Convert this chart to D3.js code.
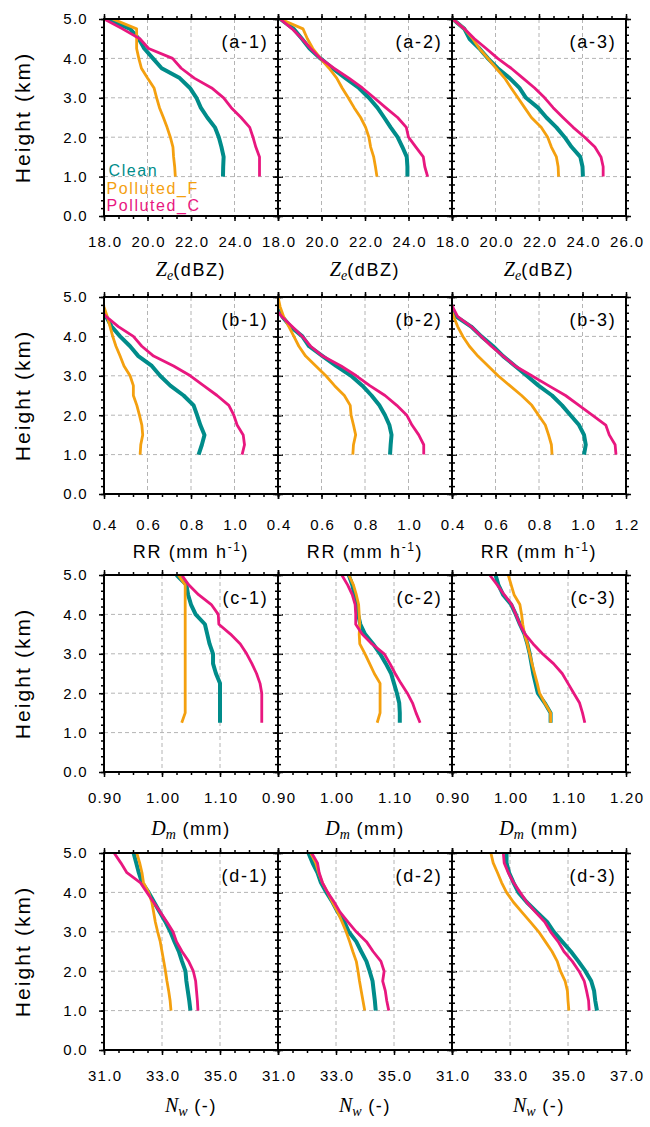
<!DOCTYPE html>
<html>
<head>
<meta charset="utf-8">
<script src="https://cdn.jsdelivr.net/npm/d3@7"></script>
<style>
	body { margin: 0; background: #fff; }
	svg { font-family: "Liberation Sans", Arial, sans-serif; }
	.tick text { font-size: 15px; letter-spacing: 1.3px; fill: #000; }
	.grid line { stroke: #b4b4b4; stroke-width: 1; stroke-dasharray: 4,3; }
</style>
</head>
<body>
<script>

// heights (km) of each profile level
var heights = [1.0, 1.25, 1.5, 1.75, 2.0, 2.25, 2.5, 2.75, 3.0, 3.25, 3.5, 3.75, 4.0, 4.25, 4.5, 4.75, 5.0];
var heightsDm = [1.25, 1.5, 1.75, 2.0, 2.25, 2.5, 2.75, 3.0, 3.25, 3.5, 3.75, 4.0, 4.25, 4.5, 4.75, 5.0];

var seriesNames = ['Clean', 'Polluted_F', 'Polluted_C'];
var seriesColors = ['#008c8a', '#f4a00f', '#e8177f'];

var heightTicks = [0, 1, 2, 3, 4, 5];
var zeTicks = [18, 20, 22, 24, 26];
var rrTicks = [0.4, 0.6, 0.8, 1.0, 1.2];
var dmTicks = [0.90, 1.00, 1.10, 1.20];
var nwTicks = [31, 33, 35, 37];

// (a) Ze, one sub array per column (a-1, a-2, a-3)
var zeClean = [
	[23.47, 23.48, 23.5, 23.4, 23.28, 23.1, 22.75, 22.45, 22.25, 21.95, 21.48, 20.65, 20.25, 19.85, 19.6, 19.2, 18.1],
	[23.95, 23.95, 23.92, 23.72, 23.5, 23.18, 22.88, 22.57, 22.18, 21.72, 21.1, 20.5, 19.95, 19.45, 19.1, 18.72, 18.1],
	[24.02, 24.0, 23.9, 23.5, 23.18, 22.8, 22.34, 21.95, 21.4, 21.1, 20.65, 20.1, 19.65, 19.26, 18.8, 18.57, 18.03]
];
var zePollF = [
	[21.28, 21.25, 21.2, 21.17, 21.05, 20.9, 20.73, 20.55, 20.42, 20.3, 20.0, 19.72, 19.6, 19.5, 19.5, 19.5, 18.4],
	[22.55, 22.48, 22.4, 22.26, 22.18, 22.03, 21.8, 21.5, 21.23, 20.95, 20.7, 20.35, 19.95, 19.6, 19.35, 19.15, 18.1],
	[22.9, 22.88, 22.8, 22.57, 22.4, 22.1, 21.65, 21.34, 21.03, 20.72, 20.42, 20.03, 19.65, 19.26, 18.95, 18.57, 18.03]
];
var zePollC = [
	[25.15, 25.15, 25.15, 24.98, 24.85, 24.7, 24.3, 23.85, 23.5, 22.95, 22.15, 21.55, 21.15, 20.05, 19.65, 18.85, 18.0],
	[24.88, 24.75, 24.68, 24.34, 24.0, 23.9, 23.5, 22.95, 22.42, 21.88, 21.26, 20.57, 19.95, 19.5, 19.1, 18.65, 18.1],
	[24.95, 24.95, 24.85, 24.57, 24.1, 23.57, 23.1, 22.65, 22.26, 21.8, 21.26, 20.72, 20.1, 19.57, 19.03, 18.57, 18.03]
];

// (b) RR
var rrClean = [
	[0.835, 0.85, 0.862, 0.843, 0.828, 0.812, 0.766, 0.705, 0.658, 0.62, 0.558, 0.52, 0.474, 0.435, 0.41, 0.39, 0.36],
	[0.915, 0.918, 0.922, 0.912, 0.892, 0.866, 0.83, 0.788, 0.736, 0.667, 0.605, 0.543, 0.512, 0.457, 0.42, 0.39, 0.36],
	[1.007, 1.015, 1.007, 0.984, 0.945, 0.906, 0.86, 0.798, 0.744, 0.69, 0.635, 0.589, 0.535, 0.488, 0.42, 0.38, 0.35]
];
var rrPollF = [
	[0.566, 0.569, 0.578, 0.574, 0.563, 0.551, 0.535, 0.535, 0.52, 0.492, 0.474, 0.455, 0.44, 0.428, 0.415, 0.4, 0.39],
	[0.744, 0.747, 0.757, 0.747, 0.736, 0.732, 0.705, 0.66, 0.62, 0.574, 0.527, 0.496, 0.473, 0.45, 0.426, 0.41, 0.4],
	[0.86, 0.857, 0.844, 0.829, 0.798, 0.767, 0.72, 0.666, 0.612, 0.566, 0.519, 0.48, 0.45, 0.426, 0.408, 0.39, 0.37]
];
var rrPollC = [
	[1.035, 1.046, 1.04, 1.012, 0.997, 0.974, 0.92, 0.858, 0.797, 0.72, 0.628, 0.574, 0.535, 0.466, 0.41, 0.37, 0.34],
	[1.07, 1.07, 1.047, 1.016, 0.992, 0.946, 0.892, 0.822, 0.76, 0.69, 0.605, 0.55, 0.512, 0.465, 0.418, 0.38, 0.35],
	[1.154, 1.15, 1.123, 1.107, 1.045, 0.984, 0.922, 0.844, 0.767, 0.69, 0.635, 0.581, 0.535, 0.488, 0.426, 0.403, 0.38]
];

// (c) Dm, starts at 1.25 km
var dmClean = [
	[1.1, 1.1, 1.1, 1.1, 1.1, 1.093, 1.088, 1.088, 1.082, 1.078, 1.074, 1.058, 1.05, 1.045, 1.042, 1.025],
	[1.110, 1.110, 1.109, 1.105, 1.100, 1.095, 1.086, 1.076, 1.064, 1.050, 1.042, 1.038, 1.035, 1.032, 1.028, 1.022],
	[1.07, 1.07, 1.06, 1.048, 1.044, 1.04, 1.037, 1.034, 1.03, 1.025, 1.017, 1.01, 1.002, 0.988, 0.98, 0.975]
];
var dmPollF = [
	[1.034, 1.04, 1.04, 1.04, 1.04, 1.04, 1.04, 1.04, 1.04, 1.04, 1.04, 1.04, 1.04, 1.04, 1.04, 1.028],
	[1.071, 1.076, 1.076, 1.076, 1.076, 1.066, 1.058, 1.05, 1.041, 1.04, 1.041, 1.04, 1.039, 1.035, 1.03, 1.022],
	[1.07, 1.07, 1.06, 1.051, 1.047, 1.0425, 1.038, 1.034, 1.03, 1.025, 1.022, 1.02, 1.017, 1.007, 1.002, 0.997]
];
var dmPollC = [
	[1.172, 1.172, 1.172, 1.172, 1.169, 1.163, 1.155, 1.146, 1.135, 1.118, 1.098, 1.097, 1.085, 1.063, 1.046, 1.034],
	[1.145, 1.138, 1.132, 1.123, 1.112, 1.102, 1.093, 1.083, 1.062, 1.045, 1.034, 1.034, 1.033, 1.028, 1.02, 1.01],
	[1.129, 1.125, 1.12, 1.11, 1.10, 1.09, 1.075, 1.056, 1.04, 1.026, 1.017, 1.01, 1.003, 0.99, 0.978, 0.965]
];

// (d) Nw
var nwClean = [
	[33.98, 33.94, 33.89, 33.84, 33.81, 33.69, 33.58, 33.43, 33.29, 33.12, 32.92, 32.73, 32.54, 32.31, 32.2, 32.11, 32.02],
	[34.37, 34.34, 34.3, 34.26, 34.16, 34.05, 33.87, 33.7, 33.44, 33.29, 33.06, 32.88, 32.67, 32.48, 32.36, 32.19, 32.05],
	[36.0, 35.94, 35.9, 35.8, 35.6, 35.36, 35.1, 34.8, 34.51, 34.28, 33.93, 33.58, 33.29, 33.12, 32.97, 32.88, 32.88]
];
var nwPollF = [
	[33.31, 33.28, 33.23, 33.17, 33.12, 33.06, 33.0, 32.94, 32.85, 32.77, 32.71, 32.65, 32.54, 32.36, 32.31, 32.23, 32.13],
	[33.99, 33.93, 33.87, 33.81, 33.76, 33.7, 33.58, 33.47, 33.35, 33.21, 33.06, 32.88, 32.71, 32.53, 32.4, 32.3, 32.13],
	[35.03, 35.0, 34.98, 34.9, 34.74, 34.63, 34.45, 34.22, 33.99, 33.7, 33.41, 33.12, 32.88, 32.71, 32.57, 32.42, 32.34]
];
var nwPollC = [
	[34.24, 34.22, 34.19, 34.16, 34.08, 33.92, 33.69, 33.5, 33.38, 33.17, 32.94, 32.71, 32.48, 32.25, 31.79, 31.58, 31.35],
	[34.82, 34.75, 34.7, 34.61, 34.66, 34.55, 34.28, 34.05, 33.7, 33.41, 33.14, 32.94, 32.71, 32.53, 32.42, 32.36, 32.16],
	[35.73, 35.71, 35.64, 35.56, 35.38, 35.15, 34.86, 34.66, 34.4, 34.2, 33.88, 33.58, 33.35, 33.12, 32.94, 32.8, 32.77]
];

var rows = [
	{ key: 'a', ticks: zeTicks, minor: 3, fmt: '.1f', h: heights, data: [zeClean, zePollF, zePollC] },
	{ key: 'b', ticks: rrTicks, minor: 3, fmt: '.1f', h: heights, data: [rrClean, rrPollF, rrPollC] },
	{ key: 'c', ticks: dmTicks, minor: 4, fmt: '.2f', h: heightsDm, data: [dmClean, dmPollF, dmPollC] },
	{ key: 'd', ticks: nwTicks, minor: 4, fmt: '.1f', h: heights, data: [nwClean, nwPollF, nwPollC] }
];

// layout
var margin = { top: 19, left: 104 };
var panelW = 174, panelH = 197, rowStep = 278;
var tickLabelBase = [31, 36, 31, 31];
var axisLabelBase = [60, 64, 63, 62];

var svg = d3.select('body').append('svg')
	.attr('width', 650).attr('height', 1127);

var defs = svg.append('defs');
defs.append('clipPath').attr('id', 'panel-clip')
	.append('rect').attr('width', panelW).attr('height', panelH);

var y = d3.scaleLinear().domain([0, 5]).range([panelH, 0]);
var yMinor = d3.range(0, 5.001, 0.2);

// axis label pieces: [text, serif italic?, dy, size]
function axisLabel(key, sel) {
	var parts;
	if (key === 'a') parts = [['Z', 1, 0, 20], ['e', 1, 4, 14], ['(dBZ)', 0, -4, 18]];
	if (key === 'b') parts = [['RR (mm h', 0, 0, 18], ['-1', 0, -7, 12], [')', 0, 7, 18]];
	if (key === 'c') parts = [['D', 1, 0, 20], ['m', 1, 4, 14], [' (mm)', 0, -4, 18]];
	if (key === 'd') parts = [['N', 1, 0, 20], ['w', 1, 4, 14], [' (-)', 0, -4, 18]];
	parts.forEach(function(p) {
		sel.append('tspan')
			.attr('dy', p[2])
			.style('font-size', p[3] + 'px')
			.style('font-family', p[1] ? '"Liberation Serif", serif' : null)
			.style('font-style', p[1] ? 'italic' : null)
			.style('letter-spacing', p[1] ? '0px' : '1.6px')
			.text(p[0]);
	});
}

rows.forEach(function(row, r) {

	var dom = [row.ticks[0], row.ticks[row.ticks.length - 1]];
	var step = row.ticks[1] - row.ticks[0];
	var xMinor = d3.range(dom[0], dom[1] + step / 100, step / row.minor);

	for (var c = 0; c < 3; c++) {

		var g = svg.append('g')
			.attr('transform', 'translate(' + (margin.left + c * panelW) + ',' + (margin.top + r * rowStep) + ')');

		var x = d3.scaleLinear().domain(dom).range([0, panelW]);

		// grid at the inner major ticks
		var grid = g.append('g').attr('class', 'grid');
		grid.selectAll('.gx').data(row.ticks.slice(1, -1)).enter().append('line')
			.attr('x1', function(d) { return x(d); }).attr('x2', function(d) { return x(d); })
			.attr('y1', 0).attr('y2', panelH);
		grid.selectAll('.gy').data(heightTicks.slice(1, -1)).enter().append('line')
			.attr('y1', function(d) { return y(d); }).attr('y2', function(d) { return y(d); })
			.attr('x1', 0).attr('x2', panelW);

		// profiles
		var line = d3.line()
			.x(function(d) { return x(d[0]); })
			.y(function(d) { return y(d[1]); });

		var lines = g.append('g').attr('clip-path', 'url(#panel-clip)');
		row.data.forEach(function(series, s) {
			var pts = series[c].map(function(v, i) { return [v, row.h[i]]; });
			lines.append('path')
				.datum(pts)
				.attr('fill', 'none')
				.attr('stroke', seriesColors[s])
				.attr('stroke-width', s === 0 ? 4 : 2.8)
				.attr('stroke-linejoin', 'round')
				.attr('d', line);
		});

		// minor ticks, all four sides, outward
		var noLabel = function() { return ''; };
		g.append('g').attr('transform', 'translate(0,' + panelH + ')')
			.call(d3.axisBottom(x).tickValues(xMinor).tickSize(3).tickFormat(noLabel));
		g.append('g')
			.call(d3.axisTop(x).tickValues(xMinor).tickSize(3).tickFormat(noLabel));
		g.append('g')
			.call(d3.axisLeft(y).tickValues(yMinor).tickSize(3).tickFormat(noLabel));
		g.append('g').attr('transform', 'translate(' + panelW + ',0)')
			.call(d3.axisRight(y).tickValues(yMinor).tickSize(3).tickFormat(noLabel));

		// major ticks
		var last = row.ticks[row.ticks.length - 1];
		var col = c;
		var fmt = d3.format(row.fmt);
		g.append('g').attr('class', 'x-major').attr('transform', 'translate(0,' + panelH + ')')
			.call(d3.axisBottom(x).tickValues(row.ticks).tickSize(5)
				.tickPadding(tickLabelBase[r] - 5 - 10.6)
				.tickFormat(function(d) { return (d === last && col < 2) ? '' : fmt(d); }));
		g.append('g')
			.call(d3.axisTop(x).tickValues(row.ticks).tickSize(5).tickFormat(noLabel));
		g.append('g')
			.call(d3.axisLeft(y).tickValues(heightTicks).tickSize(5).tickPadding(11)
				.tickFormat(function(d) { return col === 0 ? d3.format('.1f')(d) : ''; }));
		g.append('g').attr('transform', 'translate(' + panelW + ',0)')
			.call(d3.axisRight(y).tickValues(heightTicks).tickSize(5).tickFormat(noLabel));

		g.selectAll('.domain').remove();
		g.selectAll('.tick line').attr('stroke', '#000').attr('stroke-width', 1.5);
		g.selectAll('.x-major .tick text').attr('dx', '0.65px');

		// frame
		g.append('rect')
			.attr('width', panelW).attr('height', panelH)
			.attr('fill', 'none').attr('stroke', '#000').attr('stroke-width', 2);

		// panel tag
		g.append('text')
			.attr('x', panelW - 9.5).attr('y', 29)
			.attr('text-anchor', 'end')
			.style('font-size', '18px').style('letter-spacing', '1.8px')
			.text('(' + row.key + '-' + (c + 1) + ')');

		// x axis title
		axisLabel(row.key, g.append('text')
			.attr('x', panelW / 2).attr('y', panelH + axisLabelBase[r])
			.attr('text-anchor', 'middle'));

		if (c === 0) {
			g.append('text')
				.attr('transform', 'translate(' + (30 - margin.left) + ',' + (panelH / 2) + ') rotate(-90)')
				.attr('text-anchor', 'middle')
				.style('font-size', '21px').style('letter-spacing', '2.1px')
				.text('Height (km)');
		}

		// legend in the first panel
		if (r === 0 && c === 0) {
			var leg = g.append('g');
			seriesNames.forEach(function(name, s) {
				leg.append('text')
					.attr('x', s === 0 ? 4.5 : 2.5).attr('y', 157 + s * 17.5)
					.attr('fill', seriesColors[s])
					.style('font-size', '16px').style('letter-spacing', '1.6px')
					.text(name);
			});
		}
	}
});

</script>
</body>
</html>
